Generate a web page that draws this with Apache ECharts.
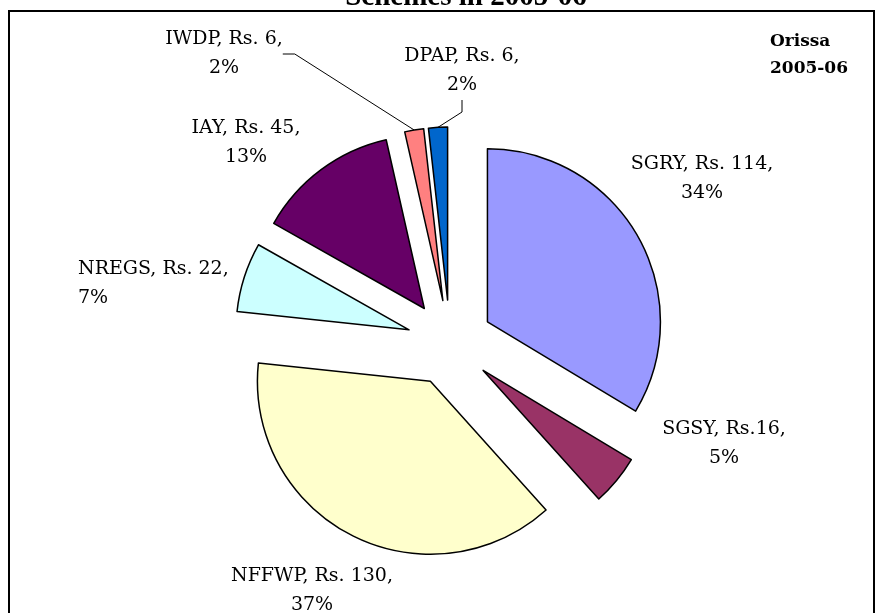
<!DOCTYPE html>
<html>
<head>
<meta charset="utf-8">
<style>
html, body { margin: 0; padding: 0; background: #fff; }
#pie { width: 883px; height: 613px; }
</style>
<script src="https://cdn.jsdelivr.net/npm/echarts@6/dist/echarts.min.js"></script>
</head>
<body>
<div id="pie"></div>
<script type="text/javascript">
	// 数据
	var names = ['SGRY', 'SGSY', 'NFFWP', 'NREGS', 'IAY', 'IWDP', 'DPAP'];
	var values = [114, 16, 130, 22, 45, 6, 6];
	var pctLabels = ['34%', '5%', '37%', '7%', '13%', '2%', '2%'];
	var colors = ['#9999FF', '#993366', '#FFFFCC', '#CCFFFF', '#660066', '#FF8080', '#0066CC'];

	// 标签位置 [x, y, align]
	var labelPos = [
		[702, 179, 'center'],
		[724, 444, 'center'],
		[312, 591, 'center'],
		[78, 284, 'left'],
		[246, 143, 'center'],
		[224, 54, 'center'],
		[462, 71, 'center']
	];

	var pieCenter = [450, 343];
	var pieRadius = 173;
	var explode = 43;

	// 扇区（全部分离）
	var sliceData = names.map(function (n, i) {
		return {
			name: n,
			value: values[i],
			selected: true,
			itemStyle: { color: colors[i] }
		};
	});

	// 标签层：透明扇区，半径加上分离距离，引线从分离后的外缘出发
	var labelData = names.map(function (n, i) {
		return {
			name: n,
			value: values[i],
			labelLine: { show: i >= 5 }
		};
	});

	var pieOpt = {
		animation: false,
		title: {
			text: 'Schemes in 2005-06',
			left: 461,
			textAlign: 'center',
			top: -22,
			textStyle: {
				fontFamily: 'Liberation Serif',
				fontWeight: 'bold',
				fontSize: 29,
				lineHeight: 29,
				color: '#000'
			}
		},
		graphic: [{
			type: 'rect',
			shape: { x: 9, y: 11, width: 865, height: 700 },
			style: { fill: 'none', stroke: '#000', lineWidth: 2 },
			silent: true
		}, {
			type: 'text',
			left: 770,
			top: 28,
			style: {
				text: 'Orissa\n2005-06',
				fontFamily: 'DejaVu Serif',
				fontWeight: 'bold',
				fontSize: 17,
				lineHeight: 27,
				align: 'center',
				fill: '#000'
			}
		}],
		series: [{
			name: 'Schemes',
			type: 'pie',
			center: pieCenter,
			radius: pieRadius,
			startAngle: 90,
			clockwise: true,
			selectedMode: 'multiple',
			selectedOffset: explode,
			itemStyle: { borderColor: '#000', borderWidth: 1.5 },
			emphasis: { disabled: true },
			label: { show: false },
			labelLine: { show: false },
			data: sliceData
		}, {
			name: 'labels',
			type: 'pie',
			silent: true,
			center: pieCenter,
			radius: pieRadius + explode,
			startAngle: 90,
			clockwise: true,
			avoidLabelOverlap: false,
			itemStyle: { color: 'rgba(0,0,0,0)', borderWidth: 0 },
			emphasis: { disabled: true },
			label: {
				show: true,
				position: 'outside',
				fontFamily: 'DejaVu Serif',
				fontSize: 19,
				lineHeight: 29,
				color: '#000',
				formatter: function (p) {
					var i = p.dataIndex;
					var sep = names[i] === 'SGSY' ? 'Rs.' : 'Rs. ';
					return names[i] + ', ' + sep + values[i] + ',\n' + pctLabels[i];
				}
			},
			labelLine: {
				show: false,
				length: 10,
				length2: 12,
				lineStyle: { color: '#000', width: 1 }
			},
			labelLayout: function (params) {
				var p = labelPos[params.dataIndex];
				return { x: p[0], y: p[1], align: p[2], verticalAlign: 'middle' };
			},
			data: labelData
		}]
	};

	function renderChart(containerId, option) {
		var dom = document.getElementById(containerId);
		var chart = echarts.init(dom);
		chart.setOption(option);
	}

	renderChart('pie', pieOpt);
</script>
</body>
</html>
